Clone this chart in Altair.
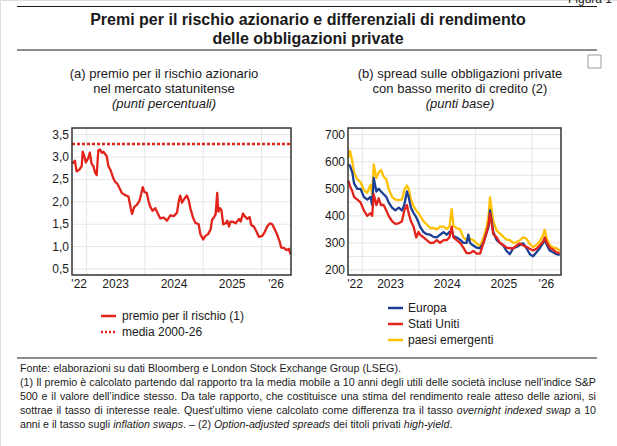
import altair as alt
import pandas as pd

# ---------------- data ----------------
dates_a = ["2022-10-02","2022-10-19","2022-10-30","2022-11-16","2022-12-01","2022-12-07","2022-12-17","2022-12-27",
           "2023-01-11","2023-01-21","2023-02-01","2023-02-12","2023-02-22","2023-03-05","2023-03-15","2023-03-26",
           "2023-04-05","2023-04-16","2023-05-07","2023-05-17","2023-06-01","2023-06-18","2023-06-28","2023-07-13",
           "2023-07-30","2023-08-09","2023-08-30","2023-09-20","2023-10-05","2023-10-13","2023-10-26","2023-11-11",
           "2023-11-28","2023-12-08","2023-12-19","2023-12-29","2024-01-13","2024-01-24","2024-02-03","2024-02-18",
           "2024-03-07","2024-03-21","2024-04-07","2024-04-28","2024-05-19","2024-06-09","2024-06-30","2024-07-21",
           "2024-07-31","2024-08-10","2024-08-21","2024-09-07","2024-09-21","2024-10-02","2024-10-13","2024-10-29",
           "2024-11-13","2024-12-04","2024-12-14","2025-01-01","2025-01-15","2025-02-01","2025-02-16","2025-02-26",
           "2025-03-09","2025-03-20","2025-03-30","2025-04-06","2025-04-16","2025-04-25","2025-05-07","2025-05-22",
           "2025-06-01","2025-06-12","2025-06-22","2025-07-09","2025-07-24","2025-08-14","2025-08-24","2025-09-08",
           "2025-09-18","2025-10-05","2025-10-19","2025-10-30","2025-11-15","2025-12-02","2025-12-16","2026-01-07",
           "2026-01-21","2026-02-07","2026-02-24","2026-03-10","2026-03-27","2026-04-10","2026-04-27","2026-05-05",
           "2026-05-22","2026-06-08","2026-06-23","2026-07-03"]
premio = [2.85,2.92,2.68,2.72,2.80,3.12,3.02,2.88,
          2.98,3.10,2.85,2.80,2.66,2.60,3.15,3.17,
          3.10,3.12,3.02,2.80,2.70,2.52,2.45,2.40,
          2.28,2.20,2.15,2.12,1.85,1.73,1.88,1.93,
          2.02,2.16,2.33,2.22,2.20,2.02,1.90,1.80,
          1.86,1.75,1.63,1.65,1.58,1.70,1.68,1.76,
          2.00,2.14,1.98,2.08,2.14,2.04,1.85,1.65,
          1.53,1.50,1.28,1.16,1.24,1.28,1.38,1.60,
          1.65,1.72,2.20,1.78,1.86,1.82,1.50,1.52,
          1.58,1.45,1.56,1.55,1.52,1.62,1.56,1.74,
          1.68,1.62,1.66,1.48,1.45,1.33,1.22,1.24,
          1.32,1.45,1.52,1.50,1.38,1.27,1.10,0.98,
          0.97,0.92,0.95,0.83]
media_2000_26 = 3.29

dates_b = ["2022-10-03","2022-10-14","2022-10-29","2022-11-09","2022-11-30","2022-12-21",
           "2023-01-11","2023-02-02","2023-02-23","2023-03-06","2023-03-16","2023-04-02",
           "2023-04-17","2023-05-02","2023-05-19","2023-06-05","2023-06-20","2023-07-12",
           "2023-08-02","2023-08-24","2023-09-14","2023-09-29","2023-10-16","2023-10-27",
           "2023-11-11","2023-11-28","2023-12-15","2023-12-30","2024-01-09","2024-01-31",
           "2024-02-21","2024-03-14","2024-04-04","2024-04-26","2024-05-17","2024-06-08",
           "2024-06-29","2024-07-16","2024-07-31","2024-08-11","2024-09-01","2024-09-23",
           "2024-10-14","2024-11-04","2024-11-15","2024-11-26","2024-12-17","2025-01-08",
           "2025-01-30","2025-02-20","2025-03-14","2025-03-26","2025-04-04","2025-04-15",
           "2025-04-25","2025-05-17","2025-06-07","2025-06-29","2025-07-20","2025-08-10",
           "2025-09-01","2025-09-22","2025-10-14","2025-11-04","2025-11-26","2025-12-17",
           "2026-01-07","2026-01-29","2026-02-19","2026-03-13","2026-03-23","2026-04-07",
           "2026-04-24","2026-05-16","2026-06-06","2026-06-28"]
europa = [590,585,560,520,500,500,
          470,460,470,440,540,490,
          500,490,480,470,450,430,
          420,430,420,440,490,470,
          430,410,395,375,360,340,
          332,330,322,320,330,340,
          330,340,345,325,320,312,
          300,300,330,300,290,282,
          280,300,340,360,420,380,
          340,310,300,290,270,258,
          280,285,292,298,280,258,
          250,265,280,300,312,290,
          272,265,258,255]
stati_uniti = [530,510,490,470,460,450,
               420,400,410,400,480,440,
               465,440,440,420,400,380,
               370,372,380,420,440,410,
               380,360,320,340,330,320,
               310,300,300,310,300,310,
               310,320,360,320,310,300,
               282,262,262,262,270,260,
               260,298,340,370,408,370,
               332,320,300,292,282,280,
               280,290,298,290,285,278,
               272,278,290,305,320,300,
               282,275,265,262]
emergenti = [615,640,600,560,535,525,
             495,485,515,480,590,540,
             560,570,545,535,500,470,
             460,458,460,495,512,500,
             460,435,420,410,400,380,
             368,355,355,350,360,360,
             352,360,425,362,355,350,
             320,310,312,315,310,298,
             288,318,360,402,468,420,
             380,345,335,322,312,310,
             300,302,310,320,315,295,
             285,292,305,330,348,312,
             292,282,280,270]

x_domain = ["2022-10-01", "2026-07-06"]
year_starts = ["2023-01-01", "2024-01-01", "2025-01-01", "2026-01-01"]
year_label_dates = ["2022-11-15", "2023-07-02", "2024-07-02", "2025-07-02", "2026-04-03"]
year_labels = ["'22", "2023", "2024", "2025", "'26"]
ticks_a = [0.5, 1.0, 1.5, 2.0, 2.5, 3.0, 3.5]
tick_labels_a = ["0,5", "1,0", "1,5", "2,0", "2,5", "3,0", "3,5"]
grid_b = [200, 250, 300, 350, 400, 450, 500, 550, 600, 650, 700]
ticks_b = [200, 300, 400, 500, 600, 700]
tick_labels_b = ["200", "300", "400", "500", "600", "700"]

# ---------------- style / layout ----------------
FONT = "Liberation Sans"
RED = "#e2231a"
BLUE = "#1b3f94"
YELLOW = "#ffc000"
GRID = "#e6e6e6"
TXT = "#1a1a1a"
TOP, BOT = 128, 275
AX0, AX1 = 72, 291
BX0, BX1 = 348, 561

ONE = pd.DataFrame({"k": [0]})
xd = [pd.Timestamp(d) for d in x_domain]
xdom = [alt.DateTime(year=d.year, month=d.month, date=d.day) for d in xd]


def panel(x0, x1, ydom, ygrid, yticks, ylabels, series, extra=None):
    xs = alt.Scale(domain=xdom, range=[x0, x1])
    ys = alt.Scale(domain=ydom, range=[BOT, TOP], nice=False, zero=False)
    layers = []
    g = pd.DataFrame({"d": pd.to_datetime(year_starts)})
    layers.append(alt.Chart(g).mark_rule(color=GRID, strokeWidth=1).encode(
        x=alt.X("d:T", scale=xs, axis=None), y=alt.value(TOP), y2=alt.value(BOT)))
    gy = pd.DataFrame({"v": ygrid})
    layers.append(alt.Chart(gy).mark_rule(color=GRID, strokeWidth=1).encode(
        y=alt.Y("v:Q", scale=ys, axis=None), x=alt.value(x0), x2=alt.value(x1)))
    for df, col, color, sw in series:
        layers.append(alt.Chart(df).mark_line(color=color, strokeWidth=sw, strokeJoin="round").encode(
            x=alt.X("date:T", scale=xs, axis=None), y=alt.Y(f"{col}:Q", scale=ys, axis=None)))
    if extra is not None:
        layers.append(extra(xs, ys))
    yl = pd.DataFrame({"v": yticks, "lab": ylabels})
    layers.append(alt.Chart(yl).mark_text(align="right", baseline="middle", fontSize=12, font=FONT, color=TXT).encode(
        y=alt.Y("v:Q", scale=ys, axis=None), x=alt.value(x0 - 3), text="lab:N"))
    xl = pd.DataFrame({"d": pd.to_datetime(year_label_dates), "lab": year_labels})
    layers.append(alt.Chart(xl).mark_text(align="center", baseline="middle", fontSize=12, font=FONT, color=TXT).encode(
        x=alt.X("d:T", scale=xs, axis=None), y=alt.value(BOT + 9), text="lab:N"))
    layers.append(alt.Chart(ONE).mark_rect(fill=None, stroke="#333333", strokeWidth=1.5).encode(
        x=alt.value(x0), x2=alt.value(x1), y=alt.value(TOP), y2=alt.value(BOT)))
    return alt.layer(*layers)


df_a = pd.DataFrame({"date": pd.to_datetime(dates_a), "premio": premio})
df_m = pd.DataFrame({"start": [xd[0]], "end": [xd[1]], "media": [media_2000_26]})


def mean_rule(xs, ys):
    return alt.Chart(df_m).mark_rule(color=RED, strokeWidth=2.5, strokeDash=[3, 2]).encode(
        x=alt.X("start:T", scale=xs, axis=None), x2="end:T", y=alt.Y("media:Q", scale=ys, axis=None))


panel_a = panel(AX0, AX1, [0.366, 3.65], ticks_a, ticks_a, tick_labels_a,
                [(df_a, "premio", RED, 2.3)], extra=mean_rule)

df_b = pd.DataFrame({"date": pd.to_datetime(dates_b), "europa": europa,
                     "usa": stati_uniti, "em": emergenti})
panel_b = panel(BX0, BX1, [181, 725], grid_b, ticks_b, tick_labels_b,
                [(df_b, "em", YELLOW, 2.3), (df_b, "europa", BLUE, 2.3), (df_b, "usa", RED, 2.3)])


def txt(s, x, y, size=12, align="left", weight="normal", style="normal", font=FONT, baseline="middle", color=TXT):
    return alt.Chart(ONE).mark_text(text=s, align=align, baseline=baseline, fontSize=size, fontWeight=weight,
                                     fontStyle=style, font=font, color=color).encode(x=alt.value(x), y=alt.value(y))


def hrule(x0, x1, y, color="#1a1a1a", sw=1.2, dash=None):
    kw = dict(color=color, strokeWidth=sw)
    if dash:
        kw["strokeDash"] = dash
    return alt.Chart(ONE).mark_rule(**kw).encode(x=alt.value(x0), x2=alt.value(x1), y=alt.value(y))


deco = []
# header
deco.append(txt("Figura 1", 612, 3, size=12, align="right", baseline="alphabetic"))
deco.append(hrule(17, 597, 6.5))
deco.append(txt("Premi per il rischio azionario e differenziali di rendimento", 308, 20, size=16, align="center", weight="bold"))
deco.append(txt("delle obbligazioni private", 308, 39, size=16, align="center", weight="bold"))
deco.append(hrule(17, 597, 50))
deco.append(alt.Chart(ONE).mark_rect(fill=None, stroke="#9a9a9a", strokeWidth=1).encode(
    x=alt.value(588), x2=alt.value(601), y=alt.value(55), y2=alt.value(68)))
# subtitles
deco.append(txt("(a) premio per il rischio azionario", 164, 74, size=13, align="center"))
deco.append(txt("nel mercato statunitense", 164, 89, size=13, align="center"))
deco.append(txt("(punti percentuali)", 164, 104, size=13, align="center", style="italic"))
deco.append(txt("(b) spread sulle obbligazioni private", 460, 74, size=13, align="center"))
deco.append(txt("con basso merito di credito (2)", 460, 89, size=13, align="center"))
deco.append(txt("(punti base)", 460, 104, size=13, align="center", style="italic"))
# legends
deco.append(hrule(101, 116, 316, color=RED, sw=2.5))
deco.append(txt("premio per il rischio (1)", 122, 316))
deco.append(hrule(101, 116, 332, color=RED, sw=2.5, dash=[2, 2]))
deco.append(txt("media 2000-26", 122, 332))
for yy, col, lab in [(308, BLUE, "Europa"), (324, RED, "Stati Uniti"), (340, YELLOW, "paesi emergenti")]:
    deco.append(hrule(388, 403, yy, color=col, sw=2.5))
    deco.append(txt(lab, 408, yy))

# footer (Arial-compatible advance widths, used to place words and italic segments)
W = {" ": 278, "!": 278, "(": 333, ")": 333, "-": 333, ".": 278, ",": 278, ":": 278, "’": 222, "'": 191,
     "&": 667, "–": 556, "è": 556, "à": 556}
for c in "0123456789":
    W[c] = 556
W.update({"a": 556, "b": 556, "c": 500, "d": 556, "e": 556, "f": 278, "g": 556, "h": 556, "i": 222, "j": 222,
          "k": 500, "l": 222, "m": 833, "n": 556, "o": 556, "p": 556, "q": 556, "r": 333, "s": 500, "t": 278,
          "u": 556, "v": 500, "w": 722, "x": 500, "y": 500, "z": 500, "A": 667, "B": 667, "C": 722, "D": 722,
          "E": 667, "F": 611, "G": 778, "I": 278, "L": 556, "O": 778, "P": 667, "Q": 778, "S": 667, "T": 611})


def wid(s, size):
    return sum(W.get(c, 556) for c in s) / 1000 * size


footer = [
    [("Fonte: elaborazioni su dati Bloomberg e London Stock Exchange Group (LSEG).", False)],
    [("(1) Il premio è calcolato partendo dal rapporto tra la media mobile a 10 anni degli utili delle società incluse nell’indice S&P", False)],
    [("500 e il valore dell’indice stesso. Da tale rapporto, che costituisce una stima del rendimento reale atteso delle azioni, si", False)],
    [("sottrae il tasso di interesse reale. Quest’ultimo viene calcolato come differenza tra il tasso ", False),
     ("overnight indexed swap", True), (" a 10", False)],
    [("anni e il tasso sugli ", False), ("inflation swaps", True), (". – (2) ", False),
     ("Option-adjusted spreads", True), (" dei titoli privati ", False), ("high-yield", True), (".", False)],
]
justified = [False, True, True, True, False]
FX0, FX1 = 20.0, 596.0
FS = 573 / (wid(footer[1][0][0], 1))
deco.append(hrule(17, 597, 358))
for i, line in enumerate(footer):
    yy = 369 + i * 14
    if justified[i]:
        words = []
        for seg, it in line:
            words += [(w, it) for w in seg.split(" ") if w]
        natural = sum(wid(w, FS) for w, _ in words)
        gap = (FX1 - FX0 - natural) / (len(words) - 1)
        xc = FX0
        for w, it in words:
            deco.append(txt(w, xc, yy, size=FS, style="italic" if it else "normal"))
            xc += wid(w, FS) + gap
    else:
        xc = FX0
        for seg, it in line:
            lead = len(seg) - len(seg.lstrip())
            deco.append(txt(seg.strip(), xc + wid(seg[:lead], FS), yy, size=FS,
                            style="italic" if it else "normal"))
            xc += wid(seg, FS)

chart = alt.layer(panel_a, panel_b, *deco).resolve_scale(x="independent", y="independent").properties(
    width=617, height=446, autosize=alt.AutoSizeParams(type="none"), padding=0
).configure_view(stroke=None).configure(font=FONT)

chart.save("out.html", embed_options={"renderer": "svg", "actions": False})
